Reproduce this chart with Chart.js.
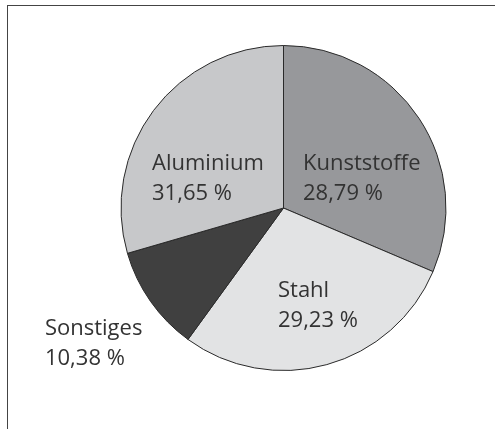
<!DOCTYPE html>
<html>
<head>
<meta charset="utf-8">
<script src="https://cdn.jsdelivr.net/npm/chart.js@4"></script>
<style>
  body { margin:0; background:#fff; }
  #wrap { position:relative; width:495px; height:429px; }
  #frame { position:absolute; left:7px; top:5px; right:0; bottom:0; border-left:1.5px solid #444; border-top:1.5px solid #444; }
</style>
</head>
<body>
<div id="wrap">
  <div id="frame"></div>
  <canvas id="pieChart"></canvas>
</div>
<script>
const kategorien = ['Kunststoffe', 'Stahl', 'Sonstiges', 'Aluminium']
// slice sizes as they are drawn in the picture
const anteile = [31.4, 28.6, 10.5, 29.5]
// percentages as they are printed on the picture
const prozentTexte = ['28,79 %', '29,23 %', '10,38 %', '31,65 %']
const farben = ['#97989b', '#e2e3e4', '#404040', '#c7c8ca']

// label anchor (left, baseline) in units of the pie radius, from the centre
const labelPos = [[0.12, -0.234], [-0.034, 0.548], [-1.468, 0.782], [-0.809, -0.234]]

const pieLabels = {
  id: 'pieLabels',
  afterDatasetsDraw(chart) {
    const ctx = chart.ctx
    const arcs = chart.getDatasetMeta(0).data
    ctx.save()
    ctx.font = '22px "Open Sans"'
    ctx.fillStyle = '#333'
    ctx.textAlign = 'left'
    ctx.textBaseline = 'alphabetic'
    arcs.forEach((arc, i) => {
      const r = arc.outerRadius
      const x = arc.x + labelPos[i][0] * r
      const y = arc.y + labelPos[i][1] * r
      ctx.fillText(chart.data.labels[i], x, y)
      ctx.fillText(prozentTexte[i], x, y + 30)
    })
    ctx.restore()
  }
}

const canvas = document.getElementById('pieChart')
const myChart = new Chart(canvas, {
  type: 'pie',
  data: {
    labels: kategorien,
    datasets: [{
      data: anteile,
      backgroundColor: farben,
      borderColor: '#2a2a2a',
      borderWidth: 1
    }]
  },
  options: {
    responsive: true,
    maintainAspectRatio: false,
    animation: false,
    radius: 162.5,
    layout: { padding: { left: 80, right: 8, top: 0, bottom: 13 } },
    plugins: {
      legend: { display: false },
      tooltip: { enabled: false }
    }
  },
  plugins: [pieLabels]
})
</script>
</body>
</html>
